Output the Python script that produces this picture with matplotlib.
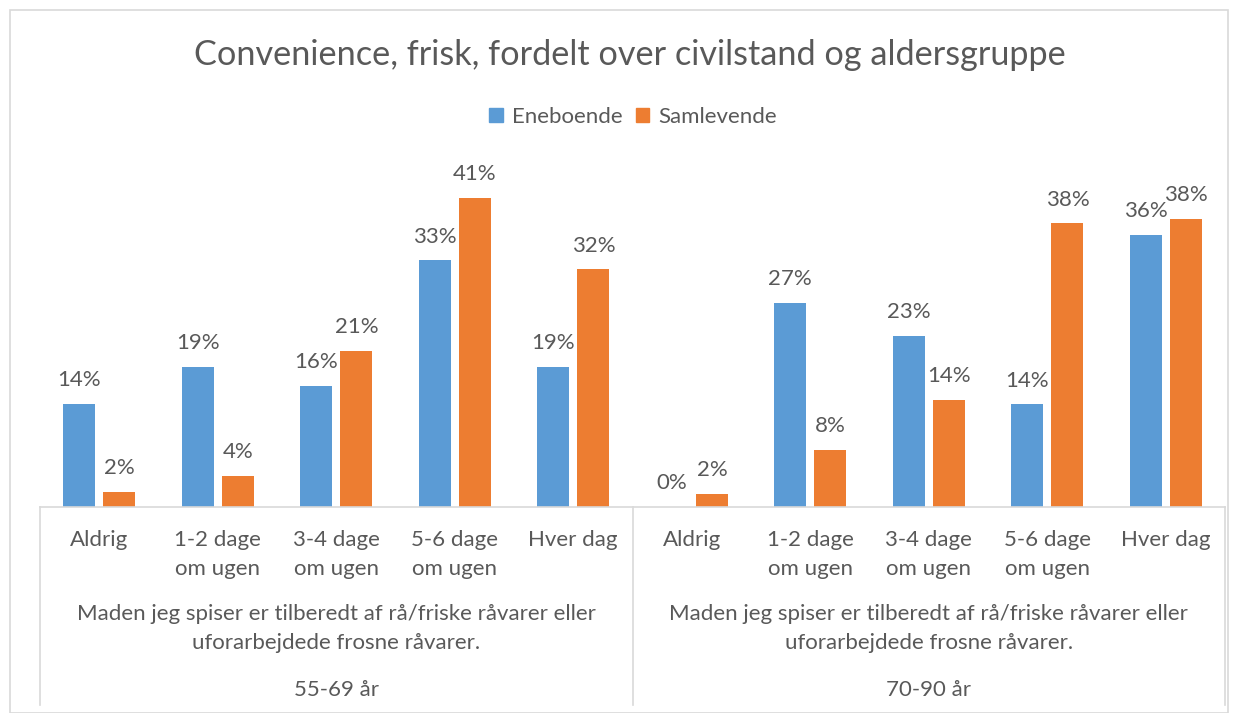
import matplotlib
matplotlib.use("Agg")
import matplotlib.pyplot as plt
import matplotlib.transforms as mtransforms
from matplotlib.lines import Line2D
from matplotlib.patches import Rectangle, Patch
import numpy as np

plt.rcParams['font.family'] = ['Lato', 'DejaVu Sans']

categories = ["Aldrig", "1-2 dage\nom ugen", "3-4 dage\nom ugen", "5-6 dage\nom ugen", "Hver dag"]
groups = ["55-69 år", "70-90 år"]
group_text = "Maden jeg spiser er tilberedt af rå/friske råvarer eller\nuforarbejdede frosne råvarer."
series_names = ["Eneboende", "Samlevende"]
eneboende = [0.137, 0.186, 0.160, 0.327, 0.186, 0.000, 0.271, 0.227, 0.136, 0.361]
samlevende = [0.020, 0.041, 0.207, 0.410, 0.315, 0.017, 0.076, 0.142, 0.376, 0.382]
colors = ["#5B9BD5", "#ED7D31"]
text_color = "#595959"
line_color = "#D9D9D9"

W, H = 1238, 713
fig = plt.figure(figsize=(W / 100, H / 100), dpi=100)

def fx(px):
    return px / W

def fy(py):
    return 1 - py / H

base_px, top_px, left_px, right_px = 507, 150, 40, 1225
ax = fig.add_axes([fx(left_px), fy(base_px), fx(right_px) - fx(left_px), fy(top_px) - fy(base_px)])
ymax = (base_px - top_px) / 7.54 / 100
ax.set_ylim(0, ymax)
n = len(eneboende)
ax.set_xlim(-0.5, n - 0.5)
x = np.arange(n)
bw = 0.27
off = 0.17
b1 = ax.bar(x - off, eneboende, bw, color=colors[0], label=series_names[0])
b2 = ax.bar(x + off, samlevende, bw, color=colors[1], label=series_names[1])
fs = 16
for bars, vals in ((b1, eneboende), (b2, samlevende)):
    for r, v in zip(bars, vals):
        ax.annotate(f"{round(v * 100):d}%", (r.get_x() + r.get_width() / 2, v),
                    xytext=(0, 10), textcoords="offset points", ha="center", va="bottom",
                    fontsize=fs, color=text_color)

for s in ax.spines.values():
    s.set_visible(False)
ax.set_xticks([])
ax.set_yticks([])
ax.axhline(0, color=line_color, lw=1.2, clip_on=False)

bt = mtransforms.blended_transform_factory(ax.transData, fig.transFigure)
for i in range(n):
    lines = categories[i % 5].split("\n")
    ax.text(i, fy(540), lines[0], transform=bt, ha="center", va="center", fontsize=fs, color=text_color)
    if len(lines) > 1:
        ax.text(i, fy(569), lines[1], transform=bt, ha="center", va="center", fontsize=fs, color=text_color)
for g in range(2):
    cx = g * 5 + 2
    l1, l2 = group_text.split("\n")
    ax.text(cx, fy(614), l1, transform=bt, ha="center", va="center", fontsize=fs, color=text_color)
    ax.text(cx, fy(643), l2, transform=bt, ha="center", va="center", fontsize=fs, color=text_color)
    ax.text(cx, fy(690), groups[g], transform=bt, ha="center", va="center", fontsize=fs, color=text_color)

for xv in (-0.5, 4.5, 9.5):
    ax.add_line(Line2D([xv, xv], [fy(base_px), fy(705)], transform=bt, color=line_color, lw=1.2, clip_on=False))

fig.text(fx(630), fy(55), "Convenience, frisk, fordelt over civilstand og aldersgruppe",
         ha="center", va="center", fontsize=24.7, color=text_color)

handles = [Patch(color=colors[0]), Patch(color=colors[1])]
fig.legend(handles, series_names, loc="center", bbox_to_anchor=(fx(633), fy(117)), ncol=2,
           frameon=False, fontsize=fs, labelcolor=text_color, handlelength=0.6, handleheight=0.6,
           handletextpad=0.4, columnspacing=0.6)

fig.add_artist(Rectangle((fx(10), fy(713)), fx(1228) - fx(10), fy(10) - fy(713), transform=fig.transFigure,
                         fill=False, edgecolor=line_color, lw=1.2))

fig.savefig("out.png", dpi=100)
